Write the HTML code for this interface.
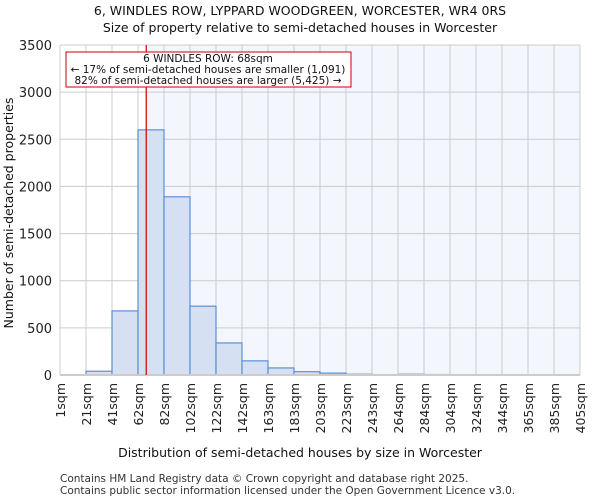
<!DOCTYPE html>
<html><head><meta charset="utf-8"><style>
body{margin:0;background:#fff;font-family:"DejaVu Sans","Liberation Sans",sans-serif}
</style></head><body>
<svg id="c" width="600" height="500" xmlns="http://www.w3.org/2000/svg" font-family="DejaVu Sans, Liberation Sans, sans-serif"></svg>
<script>
const binLabels=["1sqm","21sqm","41sqm","62sqm","82sqm","102sqm","122sqm","142sqm","163sqm","183sqm","203sqm","223sqm","243sqm","264sqm","284sqm","304sqm","324sqm","344sqm","365sqm","385sqm","405sqm"];
const counts=[0,40,680,2600,1890,730,340,150,75,35,20,8,0,8,5,0,0,0,0,0];
const yTicks=[0,500,1000,1500,2000,2500,3000,3500];
const markerValue=68;
const NS="http://www.w3.org/2000/svg",svg=document.getElementById('c');
const L=60,R=580,T=45,B=375,yMax=3500;
const n=counts.length,bw=(R-L)/n;
const x=i=>L+i*bw, y=v=>B-v/yMax*(B-T);
const xv=v=>{const lo=1,hi=405;return L+(v-lo)/((hi-lo)/n)*bw;};
function el(t,a,p){const e=document.createElementNS(NS,t);for(const k in a)e.setAttribute(k,a[k]);(p||svg).appendChild(e);return e;}
const mx=xv(markerValue);
let e=el('rect',{x:mx,y:T,width:R-mx,height:B-T,fill:'#f3f6fd'});

yTicks.forEach(v=>{let g=el('line',{x1:L,x2:R,y1:y(v),y2:y(v),stroke:'#cccccc'});

let t=el('text',{x:L-8,y:y(v)+5,'text-anchor':'end','font-size':13,fill:'#222'});t.textContent=v;
});
binLabels.forEach((s,i)=>{let g=el('line',{x1:x(i),x2:x(i),y1:T,y2:B,stroke:'#cccccc'});

let t=el('text',{x:0,y:0,'text-anchor':'end','font-size':12.5,fill:'#222',transform:`translate(${x(i)+5},${B+8}) rotate(-90)`});t.textContent=s;
});
counts.forEach((c,i)=>{if(c<=0)return;let r=el('rect',{x:x(i),y:y(c),width:bw,height:B-y(c),fill:'#d5e1f3',stroke:'#5b8fd6','stroke-width':1.2});
});
e=el('line',{x1:L,x2:R,y1:B,y2:B,stroke:'#cccccc','stroke-width':2});
e=el('line',{x1:mx,x2:mx,y1:T,y2:B,stroke:'#cc0000','stroke-width':1.2});
e=el('rect',{x:66,y:52,width:285,height:35,fill:'#fff',stroke:'#cc0000'});
[["6 WINDLES ROW: 68sqm",62],["← 17% of semi-detached houses are smaller (1,091)",73],["82% of semi-detached houses are larger (5,425) →",84]].forEach(([s,yy])=>{let t=el('text',{x:208,y:yy,'text-anchor':'middle','font-size':10.5,fill:'#111'});t.textContent=s;
});
function txt(s,a,name){let t=el('text',a);t.textContent=s;}
txt("6, WINDLES ROW, LYPPARD WOODGREEN, WORCESTER, WR4 0RS",{x:300,y:15,'text-anchor':'middle','font-size':12.5,fill:'#111'},'chart-title');
txt("Size of property relative to semi-detached houses in Worcester",{x:300,y:32,'text-anchor':'middle','font-size':12.5,fill:'#111'},'chart-subtitle');
txt("Distribution of semi-detached houses by size in Worcester",{x:300,y:457,'text-anchor':'middle','font-size':12.5,fill:'#111'},'x-axis-title');
txt("Number of semi-detached properties",{x:0,y:0,'text-anchor':'middle','font-size':12.5,fill:'#111',transform:'translate(13,213) rotate(-90)'},'y-axis-title');
txt("Contains HM Land Registry data © Crown copyright and database right 2025.",{x:60,y:482,'font-size':10.5,fill:'#333'},'footer-line-1');
txt("Contains public sector information licensed under the Open Government Licence v3.0.",{x:60,y:494,'font-size':10.5,fill:'#333'},'footer-line-2');
</script></body></html>
